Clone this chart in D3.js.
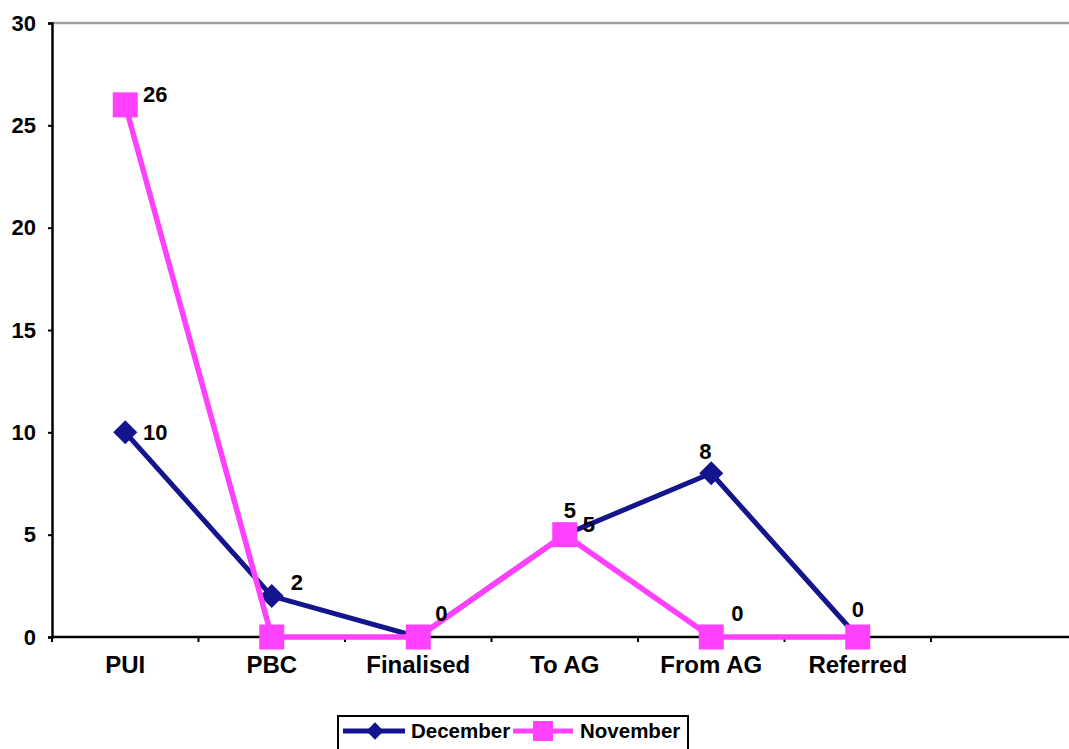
<!DOCTYPE html>
<html>
<head>
<meta charset="utf-8">
<script src="https://cdn.jsdelivr.net/npm/d3@7"></script>
<style>
  body { margin: 0; background: #fff; }
  text { font-family: "Liberation Sans", Arial, sans-serif; font-weight: bold; fill: #000; }
</style>
</head>
<body>
<div id="chart"></div>
<script>
var categories = ["PUI", "PBC", "Finalised", "To AG", "From AG", "Referred", ""];
var december = [10, 2, 0, 5, 8, 0];
var november = [26, 0, 0, 5, 0, 0];
var yTicks = [0, 5, 10, 15, 20, 25, 30];

// label offsets (dx, dy) per point, null = label not shown
var decLabelPos = [[30, 0], [25, -14], [23, -24], [24, -10], [-6, -22], [0, -28]];
var novLabelPos = [[30, -11], null, null, [5, -24], [26, -24], null];

var w = 1069, h = 749;
var plotLeft = 52, plotTop = 23, plotBottom = 637;
var bandW = 146.5;

var svg = d3.select("#chart").append("svg")
    .attr("width", w)
    .attr("height", h);

var x = d3.scaleBand()
    .domain(categories.map(function (d, i) { return i; }))
    .range([plotLeft, plotLeft + bandW * categories.length]);

var y = d3.scaleLinear()
    .domain([0, 30])
    .range([plotBottom, plotTop]);

// top border of plot area
svg.append("line")
    .attr("x1", plotLeft).attr("x2", w)
    .attr("y1", y(30)).attr("y2", y(30))
    .attr("stroke", "#a0a0a0")
    .attr("stroke-width", 2.5);

// y axis
var yAxis = svg.append("g")
    .attr("transform", "translate(" + plotLeft + ",0)")
    .call(d3.axisLeft(y).tickValues(yTicks).tickSize(4).tickPadding(12));
yAxis.select(".domain").attr("stroke", "#000").attr("stroke-width", 2.5);
yAxis.selectAll(".tick line").attr("stroke", "#000").attr("stroke-width", 2);
yAxis.selectAll(".tick text")
    .attr("font-size", 22)
    .style("font-family", "Liberation Sans, Arial, sans-serif")
    .style("font-weight", "bold");

// x axis
var xg = svg.append("g")
    .attr("transform", "translate(0," + plotBottom + ")");
xg.append("line")
    .attr("x1", plotLeft).attr("x2", w)
    .attr("stroke", "#000")
    .attr("stroke-width", 2.5);
xg.selectAll(".xtick")
    .data(d3.range(categories.length + 1))
    .enter()
    .append("line")
    .attr("x1", function (d) { return plotLeft + d * bandW; })
    .attr("x2", function (d) { return plotLeft + d * bandW; })
    .attr("y1", 0).attr("y2", 5)
    .attr("stroke", "#000")
    .attr("stroke-width", 2);
xg.selectAll(".xlabel")
    .data(categories)
    .enter()
    .append("text")
    .attr("x", function (d, i) { return x(i) + x.bandwidth() / 2; })
    .attr("y", 36)
    .attr("text-anchor", "middle")
    .attr("font-size", 24)
    .text(function (d) { return d; });

var cx = function (d, i) { return x(i) + x.bandwidth() / 2; };
var line = d3.line()
    .x(function (d, i) { return cx(d, i); })
    .y(function (d) { return y(d); });

// December series
svg.append("path")
    .datum(december)
    .attr("fill", "none")
    .attr("stroke", "#14148c")
    .attr("stroke-width", 5)
    .attr("d", line);
svg.selectAll(".dec")
    .data(december)
    .enter()
    .append("path")
    .attr("d", d3.symbol().type(d3.symbolSquare).size(290))
    .attr("transform", function (d, i) {
        return "translate(" + cx(d, i) + "," + y(d) + ") rotate(45)";
    })
    .attr("fill", "#14148c");

// November series
svg.append("path")
    .datum(november)
    .attr("fill", "none")
    .attr("stroke", "#ff40ff")
    .attr("stroke-width", 5.5)
    .attr("d", line);
svg.selectAll(".nov")
    .data(november)
    .enter()
    .append("rect")
    .attr("x", function (d, i) { return cx(d, i) - 12.5; })
    .attr("y", function (d) { return y(d) - 12.5; })
    .attr("width", 25)
    .attr("height", 25)
    .attr("fill", "#ff40ff");

// data labels
function addLabels(data, pos) {
    var items = data.map(function (v, i) { return { v: v, i: i, p: pos[i] }; })
        .filter(function (d) { return d.p != null; });
    svg.selectAll(null)
        .data(items)
        .enter()
        .append("text")
        .attr("x", function (d) { return cx(d.v, d.i) + d.p[0]; })
        .attr("y", function (d) { return y(d.v) + d.p[1]; })
        .attr("dy", "0.35em")
        .attr("text-anchor", "middle")
        .attr("font-size", 22)
        .text(function (d) { return d.v; });
}
addLabels(december, decLabelPos);
addLabels(november, novLabelPos);

// legend
var lg = svg.append("g");
lg.append("rect")
    .attr("x", 338).attr("y", 716)
    .attr("width", 350).attr("height", 50)
    .attr("fill", "#fff")
    .attr("stroke", "#000")
    .attr("stroke-width", 2);
lg.append("line")
    .attr("x1", 343).attr("x2", 405)
    .attr("y1", 731).attr("y2", 731)
    .attr("stroke", "#14148c").attr("stroke-width", 5);
lg.append("path")
    .attr("d", d3.symbol().type(d3.symbolSquare).size(150))
    .attr("transform", "translate(375,731) rotate(45)")
    .attr("fill", "#14148c");
lg.append("text")
    .attr("x", 411).attr("y", 738)
    .attr("font-size", 20.5)
    .text("December");
lg.append("line")
    .attr("x1", 513).attr("x2", 573)
    .attr("y1", 731).attr("y2", 731)
    .attr("stroke", "#ff40ff").attr("stroke-width", 5);
lg.append("rect")
    .attr("x", 533).attr("y", 721)
    .attr("width", 20).attr("height", 20)
    .attr("fill", "#ff40ff");
lg.append("text")
    .attr("x", 580).attr("y", 738)
    .attr("font-size", 20.5)
    .text("November");
</script>
</body>
</html>
